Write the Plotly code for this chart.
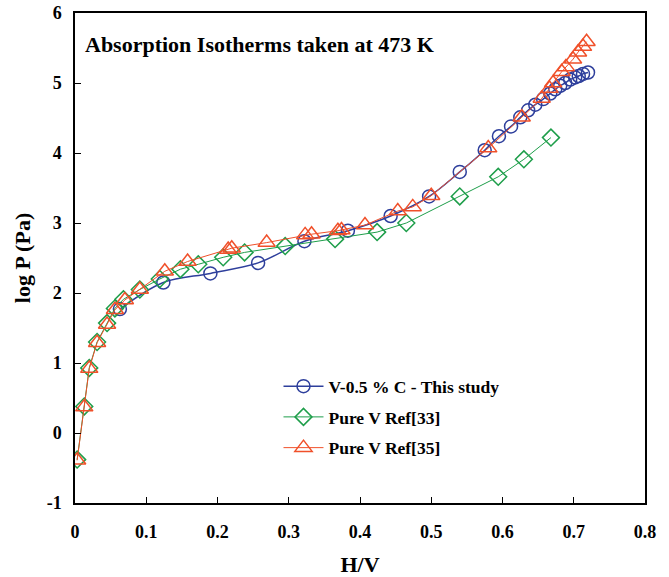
import plotly.graph_objects as go

# V-0.5% C - This study
blue_x = [0.063, 0.124, 0.19, 0.257, 0.322, 0.383, 0.443, 0.497, 0.540, 0.575, 0.595, 0.612,
          0.625, 0.636, 0.646, 0.657, 0.667, 0.674, 0.681, 0.688, 0.695, 0.702, 0.707, 0.713, 0.72]
blue_y = [1.77, 2.15, 2.28, 2.43, 2.74, 2.89, 3.10, 3.38, 3.73, 4.04, 4.24, 4.38,
          4.51, 4.61, 4.69, 4.77, 4.85, 4.91, 4.96, 5.00, 5.05, 5.08, 5.10, 5.13, 5.15]

# Pure V Ref[33]
green_x = [0.003, 0.013, 0.02, 0.031, 0.045, 0.056, 0.068, 0.091, 0.119, 0.148, 0.173, 0.208,
           0.238, 0.295, 0.365, 0.424, 0.465, 0.540, 0.594, 0.63, 0.668]
green_y = [-0.38, 0.38, 0.93, 1.30, 1.57, 1.78, 1.91, 2.05, 2.20, 2.34, 2.41, 2.51,
           2.58, 2.67, 2.77, 2.87, 3.00, 3.38, 3.66, 3.91, 4.22]

# Pure V Ref[35]
orange_x = [0.003, 0.013, 0.02, 0.031, 0.045, 0.056, 0.07, 0.091, 0.126, 0.158, 0.215, 0.22,
            0.269, 0.323, 0.332, 0.369, 0.374, 0.407, 0.453, 0.474, 0.50, 0.580, 0.627, 0.655,
            0.666, 0.671, 0.683, 0.689, 0.699, 0.706, 0.713, 0.718]
orange_y = [-0.39, 0.37, 0.92, 1.29, 1.55, 1.76, 1.90, 2.05, 2.31, 2.45, 2.62, 2.64,
            2.72, 2.83, 2.84, 2.89, 2.90, 2.97, 3.17, 3.23, 3.39, 4.07, 4.51, 4.78,
            4.92, 5.00, 5.16, 5.23, 5.34, 5.44, 5.52, 5.59]

x_ticks = [0, 0.1, 0.2, 0.3, 0.4, 0.5, 0.6, 0.7, 0.8]
y_ticks = [-1, 0, 1, 2, 3, 4, 5, 6]

FONT = "Liberation Serif"
BLUE = "#2E3F9C"
GREEN = "#1E9E4A"
ORANGE = "#F0502A"

fig = go.Figure()
fig.add_trace(go.Scatter(
    x=blue_x, y=blue_y, mode="lines+markers", name="V-0.5 % C - This study",
    legendgroup="a",
    line=dict(color=BLUE, width=1.5, shape="spline"),
    marker=dict(symbol="circle-open", size=13, color=BLUE, line=dict(width=1.5)),
))
fig.add_trace(go.Scatter(
    x=green_x, y=green_y, mode="lines+markers", name="Pure V Ref[33]",
    legendgroup="b",
    line=dict(color=GREEN, width=1),
    marker=dict(symbol="diamond-open", size=13, color=GREEN, line=dict(width=1.5)),
))
fig.add_trace(go.Scatter(
    x=orange_x, y=orange_y, mode="lines+markers", name="Pure V Ref[35]",
    legendgroup="c",
    line=dict(color=ORANGE, width=1),
    marker=dict(symbol="triangle-up-open", size=15, color=ORANGE, line=dict(width=1.5)),
))

fig.update_layout(
    width=669, height=577,
    margin=dict(l=75, r=24, t=13, b=74),
    paper_bgcolor="white", plot_bgcolor="white",
    font=dict(family=FONT, size=17, color="black"),
    showlegend=True,
    legend=dict(x=0.357, y=0.275, xanchor="left", yanchor="top",
                bgcolor="rgba(0,0,0,0)", font=dict(family=FONT, size=17.5, color="black", weight="bold"),
                tracegroupgap=5, itemwidth=40),
    annotations=[dict(
        text="<b>Absorption Isotherms taken at 473 K</b>", x=0.014, y=0.935,
        xref="paper", yref="paper", xanchor="left", yanchor="middle", showarrow=False,
        font=dict(family=FONT, size=22, color="black"),
    )],
)
fig.update_xaxes(
    range=[0, 0.8], tickvals=x_ticks, ticktext=[str(v) for v in x_ticks],
    showline=True, linecolor="black", linewidth=1.5, mirror=True,
    ticks="inside", ticklen=6, tickcolor="black", showgrid=False, zeroline=False,
    tickfont=dict(family=FONT, size=18, color="black", weight="bold"),
    ticklabelstandoff=12, ticklabeloverflow="allow",
    title=dict(text="<b>H/V</b>", font=dict(family=FONT, size=22, color="black"), standoff=30),
    automargin=False,
)
fig.update_yaxes(
    range=[-1, 6], tickvals=y_ticks, ticktext=[str(v) for v in y_ticks],
    showline=True, linecolor="black", linewidth=1.5, mirror=True,
    ticks="inside", ticklen=6, tickcolor="black", showgrid=False, zeroline=False,
    tickfont=dict(family=FONT, size=18, color="black", weight="bold"),
    ticklabelstandoff=8, ticklabeloverflow="allow",
    title=dict(text="<b>log P (Pa)</b>", font=dict(family=FONT, size=22, color="black"), standoff=10),
    automargin=False,
)

fig.write_html(
    "out.html",
    config={"displayModeBar": False},
    post_script="document.body.style.margin='0';document.body.style.overflow='hidden';",
)
